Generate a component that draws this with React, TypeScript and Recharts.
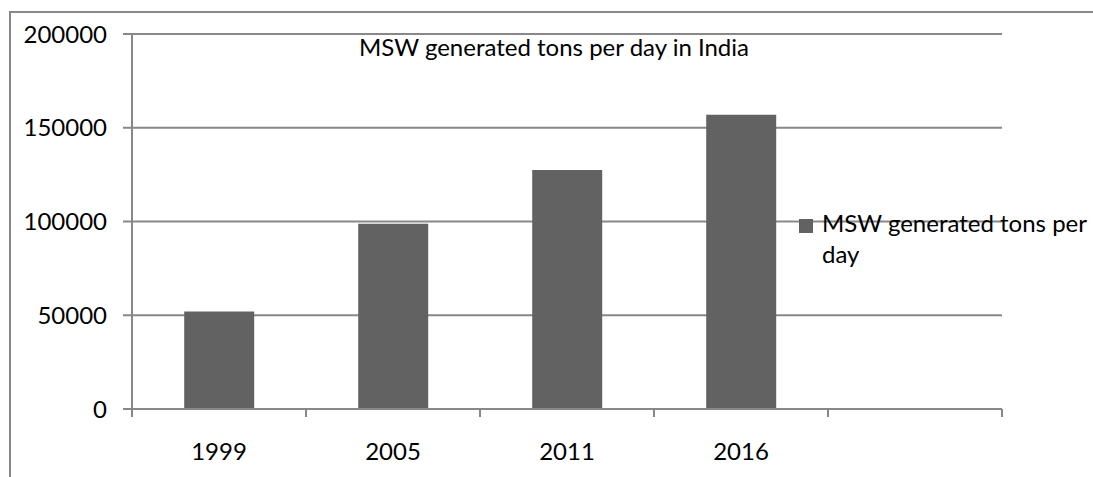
import React from "react";
import { BarChart, Bar, XAxis, YAxis, CartesianGrid, Legend } from "recharts";

const years = ["1999", "2005", "2011", "2016", ""];
const tonsPerDay = [52000, 98800, 127486, 157000, null];
const yTicks = [0, 50000, 100000, 150000, 200000];
const seriesName = "MSW generated tons per day";
const chartTitle = "MSW generated tons per day in India";

const data = years.map((year, i) => ({ year, tons: tonsPerDay[i] }));

const FONT = "Lato, 'Liberation Sans', sans-serif";
const FONT_SIZE = 24;
const LINE = "#888888";
const BAR = "#626262";
const TICK_SIZE = 8;
const TICK_MARGIN = 26;

// category ticks sit on the band edges, like Excel
function YearTick(props: any) {
  const { x, y, payload, index, visibleTicksCount } = props;
  const half = payload.offset ?? 0;
  const axisY = y - TICK_SIZE - TICK_MARGIN;
  const last = index === visibleTicksCount - 1;
  return (
    <g>
      <line x1={x - half} x2={x - half} y1={axisY} y2={axisY + TICK_SIZE} stroke={LINE} strokeWidth={2} />
      {last && <line x1={x + half} x2={x + half} y1={axisY} y2={axisY + TICK_SIZE} stroke={LINE} strokeWidth={2} />}
      <text x={x} y={y} dy="0.71em" textAnchor="middle" fontSize={FONT_SIZE} fontFamily={FONT} fill="#000">
        {payload.value}
      </text>
    </g>
  );
}

function LegendBox(props: any) {
  const item = props.payload?.[0];
  return (
    <div style={{ display: "flex", alignItems: "flex-start", fontFamily: FONT, fontSize: FONT_SIZE, color: "#000" }}>
      <div style={{ width: 14, height: 14, background: BAR, marginTop: 12, marginRight: 9, flex: "none" }} />
      <div style={{ width: 272, lineHeight: "31px" }}>{item ? item.value : seriesName}</div>
    </div>
  );
}

export default function App() {
  return (
    <div style={{ position: "absolute", left: 0, top: 0, width: 1093, height: 477, background: "#fff" }}>
      <div
        style={{
          position: "absolute",
          left: 9,
          top: 11,
          width: 1084,
          height: 466,
          borderLeft: `2px solid ${LINE}`,
          borderTop: `2px solid ${LINE}`,
        }}
      />
      <BarChart
        width={1093}
        height={477}
        data={data}
        margin={{ top: 34, right: 91, bottom: 28, left: 0 }}
        barCategoryGap="30%"
      >
        <CartesianGrid horizontal vertical={false} stroke={LINE} strokeWidth={2} />
        <XAxis
          dataKey="year"
          height={40}
          axisLine={{ stroke: LINE, strokeWidth: 2 }}
          tickLine={false}
          tickSize={TICK_SIZE}
          tickMargin={TICK_MARGIN}
          interval={0}
          tick={<YearTick />}
        />
        <YAxis
          width={132}
          domain={[0, 200000]}
          ticks={yTicks}
          interval={0}
          axisLine={{ stroke: LINE, strokeWidth: 2 }}
          tickLine={{ stroke: LINE, strokeWidth: 2 }}
          tickSize={9}
          tickMargin={16}
          tick={{ fontSize: FONT_SIZE, fontFamily: FONT, fill: "#000" }}
        />
        <Legend
          layout="vertical"
          align="center"
          verticalAlign="middle"
          content={<LegendBox />}
          wrapperStyle={{ left: 799, top: 207, width: 294 }}
        />
        <Bar dataKey="tons" name={seriesName} fill={BAR} isAnimationActive={false} />
      </BarChart>
      <div
        style={{
          position: "absolute",
          left: 132,
          width: 844,
          top: 33,
          textAlign: "center",
          fontFamily: FONT,
          fontSize: FONT_SIZE,
          color: "#000",
          lineHeight: "28px",
          whiteSpace: "nowrap",
        }}
      >
        {chartTitle}
      </div>
    </div>
  );
}
